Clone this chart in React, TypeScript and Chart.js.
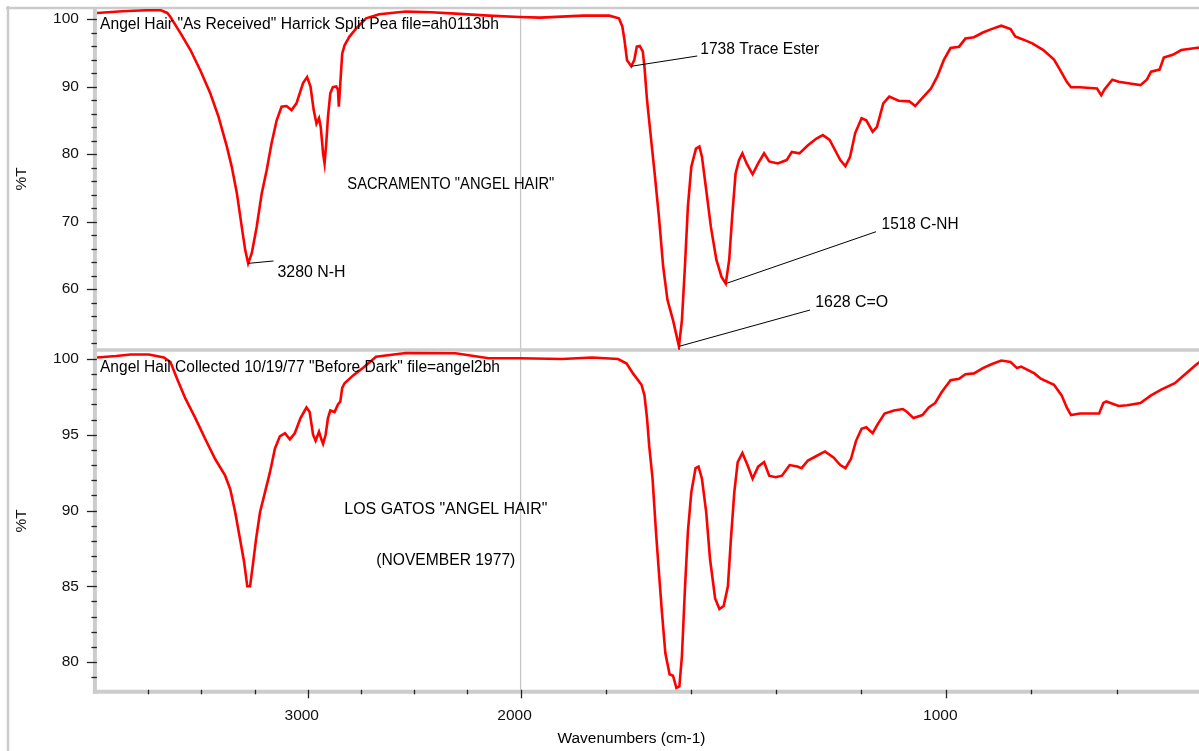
import React, { useEffect, useRef } from 'react';
import { Chart, registerables } from 'chart.js';

Chart.register(...registerables);

// ---------- data ----------
const topWavenumbers = [
  3990, 3870, 3760, 3690, 3660, 3645, 3598, 3551, 3505, 3458, 3419, 3380, 3357, 3333, 3310, 3294, 3280, 3263, 3240,
  3216, 3193, 3170, 3146, 3123, 3100, 3076, 3053, 3022, 3003, 2987, 2972, 2959, 2947, 2939, 2928, 2921, 2913, 2905,
  2894, 2882, 2866, 2858, 2854, 2847, 2838, 2827, 2804, 2772, 2726, 2664, 2539, 2420, 2306, 2150, 2005, 1954, 1853,
  1792, 1769, 1761, 1756, 1750, 1740, 1733, 1727, 1720, 1713, 1709, 1703, 1695, 1685, 1675, 1665, 1655, 1642, 1628,
  1621, 1614, 1607, 1599, 1588, 1580, 1574, 1564, 1553, 1540, 1528, 1518, 1510, 1503, 1495, 1487, 1479, 1469, 1455,
  1442, 1428, 1416, 1396, 1375, 1363, 1345, 1325, 1305, 1290, 1274, 1259, 1249, 1237, 1226, 1214, 1199, 1188, 1173,
  1163, 1148, 1134, 1112, 1087, 1073, 1056, 1036, 1021, 1006, 990, 970, 955, 935, 914, 894, 871, 849, 838, 826, 813,
  798, 772, 747, 732, 717, 707, 686, 646, 636, 628, 610, 595, 565, 544, 529, 519, 499, 489, 468, 448, 414, 400,
];
const topTransmittance = [
  100.9, 101.15, 101.3, 101.3, 100.9, 100.3, 97.9, 95.4, 92.4, 89.0, 85.5, 81.1, 78.1, 74.2, 69.2, 65.8, 63.8, 65.3, 69.2,
  74.2, 77.6, 81.6, 85.0, 87.0, 87.1, 86.5, 87.5, 90.5, 91.4, 90.0, 86.5, 84.5, 85.3, 84.0, 80.1, 78.6, 81.6, 85.5,
  89.0, 89.9, 90.0, 89.5, 87.0, 90.5, 94.9, 96.1, 97.4, 98.6, 100.1, 100.7, 101.1, 101.0, 100.8, 100.5, 100.3, 100.2, 100.5,
  100.5, 100.1, 98.9, 96.9, 93.9, 93.0, 93.9, 95.9, 96.0, 95.2, 92.9, 88.0, 83.1, 77.1, 70.7, 63.3, 58.4, 55.4, 51.5,
  55.4, 63.3, 72.2, 78.1, 80.8, 81.1, 79.6, 74.7, 69.2, 64.3, 61.8, 60.8, 64.3, 70.7, 77.1, 79.1, 80.1, 78.6, 77.0,
  78.6, 80.1, 78.9, 78.6, 79.1, 80.3, 80.1, 81.3, 82.3, 82.8, 82.1, 80.3, 79.1, 78.2, 79.6, 83.1, 85.3, 85.0, 83.3,
  84.0, 87.5, 88.5, 87.9, 87.8, 87.1, 88.3, 89.7, 91.5, 93.9, 95.7, 95.9, 97.1, 97.3, 98.0, 98.5, 99.0, 98.5, 97.4, 97.1, 96.8,
  96.4, 95.4, 94.0, 92.4, 90.7, 89.9, 89.9, 89.7, 88.7, 89.6, 91.0, 90.7, 90.4, 90.2, 91.0, 92.2, 92.5, 94.3, 94.7, 95.4, 95.7, 95.8,
];

const bottomWavenumbers = [
  3990, 3900, 3832, 3746, 3676, 3645, 3614, 3575, 3528, 3481, 3435, 3388, 3364, 3341, 3318, 3299, 3284, 3271, 3258,
  3243, 3224, 3201, 3178, 3154, 3131, 3107, 3084, 3061, 3034, 3006, 2991, 2975, 2963, 2947, 2936, 2928, 2916, 2905,
  2894, 2874, 2858, 2847, 2838, 2827, 2788, 2741, 2679, 2539, 2306, 2150, 2005, 1903, 1832, 1771, 1751, 1736, 1716,
  1709, 1703, 1698, 1690, 1682, 1675, 1668, 1660, 1650, 1642, 1634, 1627, 1621, 1614, 1607, 1599, 1589, 1582, 1574,
  1564, 1555, 1543, 1533, 1523, 1513, 1506, 1498, 1490, 1479, 1467, 1455, 1442, 1428, 1416, 1401, 1386, 1368, 1350,
  1340, 1325, 1305, 1285, 1265, 1249, 1237, 1224, 1212, 1199, 1188, 1173, 1161, 1145, 1123, 1102, 1092, 1077, 1056,
  1041, 1026, 1011, 990, 970, 955, 935, 914, 894, 871, 849, 834, 824, 793, 778, 747, 729, 717, 707, 686, 641, 631, 624,
  595, 575, 544, 519, 494, 463, 443, 414, 400,
];
const bottomTransmittance = [
  100.1, 100.2, 100.3, 100.3, 100.1, 99.8, 98.7, 97.4, 96.1, 94.7, 93.4, 92.3, 91.4, 89.9, 88.1, 86.6, 85.0, 85.0, 86.4,
  88.1, 89.9, 91.2, 92.5, 94.1, 94.9, 95.1, 94.7, 95.1, 96.1, 96.8, 96.5, 95.0, 94.6, 95.2, 94.7, 94.4, 95.0, 96.1,
  96.6, 96.5, 97.0, 97.2, 98.1, 98.4, 98.9, 99.4, 100.15, 100.4, 100.38, 100.05, 100.05, 100.0, 100.1, 100.0, 99.7, 99.05, 98.3,
  97.6, 96.1, 94.3, 92.1, 88.6, 85.9, 83.3, 80.6, 79.2, 79.1, 78.3, 78.4, 80.4, 84.8, 88.6, 91.2, 92.8, 92.9, 92.1,
  89.9, 86.8, 84.2, 83.5, 83.7, 85.0, 88.1, 91.2, 93.2, 93.8, 93.0, 92.1, 92.9, 93.2, 92.3, 92.2, 92.3, 93.0, 92.9,
  92.8, 93.3, 93.6, 93.9, 93.5, 93.0, 92.8, 93.4, 94.6, 95.4, 95.5, 95.1, 95.7, 96.4, 96.6, 96.7, 96.5, 96.1, 96.3,
  96.8, 97.1, 97.8, 98.6, 98.7, 99.0, 99.05, 99.4, 99.65, 99.9, 99.8, 99.4, 99.5, 99.05, 98.7, 98.3, 97.6, 96.8, 96.3, 96.4, 96.4, 97.1, 97.2,
  96.9, 96.95, 97.1, 97.6, 98.0, 98.4, 98.9, 99.6, 99.9,
];

const xMajorTicks = [3000, 2000, 1000];
const xTickLabels = ['3000', '2000', '1000'];
const xMinorTicks = [3750, 3500, 3250, 2750, 2500, 2250, 1800, 1600, 1400, 1200, 800, 600, 400];
const topYTicks = [60, 70, 80, 90, 100];
const topYMinorTicks = [52, 54, 56, 58, 62, 64, 66, 68, 72, 74, 76, 78, 82, 84, 86, 88, 92, 94, 96, 98];
const bottomYTicks = [80, 85, 90, 95, 100];
const bottomYMinorTicks = [79, 81, 82, 83, 84, 86, 87, 88, 89, 91, 92, 93, 94, 96, 97, 98, 99];

const yAxisTitle = '%T';
const xAxisTitle = 'Wavenumbers (cm-1)';

// panel texts: [text, wavenumber, %T, max width]
const topPanelTexts: [string, number, number, number][] = [
  ['Angel Hair "As Received" Harrick Split Pea file=ah0113bh', 3976, 99.11, 399],
  ['SACRAMENTO "ANGEL HAIR"', 2814, 75.4, 207],
];
const bottomPanelTexts: [string, number, number, number][] = [
  ['Angel Hail Collected 10/19/77 "Before Dark" file=angel2bh', 3976, 99.43, 400],
  ['LOS GATOS "ANGEL HAIR"', 2828, 90.05, 203],
  ['(NOVEMBER 1977)', 2678, 86.69, 139],
];
// peak labels: [text, peak wn, leader end wn, leader end %T, label wn, label %T, max width]
const peakLabels: [string, number, number, number, number, number, number][] = [
  ['3280 N-H', 3280, 3161, 64.15, 3142, 62.41, 68],
  ['1738 Trace Ester', 1740, 1585, 94.52, 1578, 95.41, 119],
  ['1518 C-NH', 1518, 1165, 68.49, 1152, 69.48, 77],
  ['1628 C=O', 1628, 1320, 56.89, 1308, 57.93, 73],
];

// ---------- helpers ----------
// IR axis: 4000-2000 at one scale, below 2000 expanded x2
function toAxis(w: number): number {
  return w >= 2000 ? (4000 - w) / 1000 : 2 + (2000 - w) / 500;
}
function series(ws: number[], vs: number[]) {
  return ws.map((w, i) => ({ x: toAxis(w), y: vs[i] }));
}
function valueAt(ws: number[], vs: number[], w: number): number {
  let best = 0;
  for (let i = 1; i < ws.length; i++) if (Math.abs(ws[i] - w) < Math.abs(ws[best] - w)) best = i;
  return vs[best];
}

const FONT_FAMILY = '"Liberation Sans", Arial, Helvetica, sans-serif';
const GRAY = '#cccccc';
const INK = '#111111';

function seg(ctx: CanvasRenderingContext2D, x1: number, y1: number, x2: number, y2: number) {
  ctx.beginPath();
  ctx.moveTo(x1, y1);
  ctx.lineTo(x2, y2);
  ctx.stroke();
}

const decorPlugin = {
  id: 'irDecor',
  beforeDatasetsDraw(chart: any) {
    const { ctx, chartArea: a, scales } = chart;
    const x = scales.x;
    const yTop = scales.yTop;
    ctx.save();
    ctx.strokeStyle = GRAY;
    ctx.lineWidth = 2.5;
    seg(ctx, 2, 0, 2, chart.height);
    seg(ctx, 0, 2, chart.width, 2);
    ctx.strokeStyle = '#c6c6c6';
    ctx.lineWidth = 1.3;
    const x2000 = x.getPixelForValue(toAxis(2000));
    seg(ctx, x2000, a.top, x2000, a.bottom);
    ctx.strokeStyle = GRAY;
    ctx.lineWidth = 3.5;
    seg(ctx, a.left, yTop.bottom, chart.width, yTop.bottom);
    ctx.lineWidth = 4;
    seg(ctx, a.left, a.top, a.left, a.bottom + 2);
    seg(ctx, a.left - 2, a.bottom, chart.width, a.bottom);
    ctx.restore();
  },
  afterDatasetsDraw(chart: any) {
    const { ctx, chartArea: a, scales } = chart;
    const x = scales.x;
    const yTop = scales.yTop;
    const yBot = scales.yBot;
    ctx.save();
    ctx.strokeStyle = '#222222';
    ctx.lineWidth = 1.3;
    const yTicks = (scale: any, major: number[], minor: number[]) => {
      major.forEach((v) => {
        const p = Math.round(scale.getPixelForValue(v)) + 0.5;
        seg(ctx, a.left - 8, p, a.left + 2, p);
      });
      minor.forEach((v) => {
        const p = Math.round(scale.getPixelForValue(v)) + 0.5;
        seg(ctx, a.left - 3.5, p, a.left + 2, p);
      });
    };
    yTicks(yTop, topYTicks, topYMinorTicks);
    yTicks(yBot, bottomYTicks, bottomYMinorTicks);
    xMajorTicks.forEach((w) => {
      const p = Math.round(x.getPixelForValue(toAxis(w))) + 0.5;
      seg(ctx, p, a.bottom - 2, p, a.bottom + 6.5);
    });
    xMinorTicks.forEach((w) => {
      const p = Math.round(x.getPixelForValue(toAxis(w))) + 0.5;
      seg(ctx, p, a.bottom - 2, p, a.bottom + 2.5);
    });

    // texts
    ctx.fillStyle = '#000000';
    ctx.font = `16px ${FONT_FAMILY}`;
    ctx.textBaseline = 'middle';
    ctx.textAlign = 'left';
    topPanelTexts.forEach(([t, w, v, mw]) => {
      ctx.fillText(t, x.getPixelForValue(toAxis(w)), yTop.getPixelForValue(v), mw);
    });
    bottomPanelTexts.forEach(([t, w, v, mw]) => {
      ctx.fillText(t, x.getPixelForValue(toAxis(w)), yBot.getPixelForValue(v), mw);
    });
    ctx.strokeStyle = '#000000';
    ctx.lineWidth = 1;
    peakLabels.forEach(([t, pw, ew, ev, lw, lv, mw]) => {
      const pv = valueAt(topWavenumbers, topTransmittance, pw);
      seg(
        ctx,
        x.getPixelForValue(toAxis(pw)),
        yTop.getPixelForValue(pv),
        x.getPixelForValue(toAxis(ew)),
        yTop.getPixelForValue(ev)
      );
      ctx.fillText(t, x.getPixelForValue(toAxis(lw)), yTop.getPixelForValue(lv), mw);
    });

    // x axis title
    ctx.font = `15.5px ${FONT_FAMILY}`;
    ctx.textAlign = 'center';
    ctx.fillText(xAxisTitle, 625.5, 733, 148);
    ctx.restore();
  },
};

const tickFont = { family: FONT_FAMILY, size: 15.5 };

function yScale(min: number, max: number, ticks: number[], weight: number) {
  return {
    type: 'linear' as const,
    position: 'left' as const,
    stack: 'panels',
    stackWeight: 1,
    weight,
    min,
    max,
    grid: { display: false, drawTicks: false },
    border: { display: false },
    afterBuildTicks: (s: any) => {
      s.ticks = ticks.map((v) => ({ value: v }));
    },
    afterFit: (s: any) => {
      s.width = 88.9;
      s.paddingTop = 0;
      s.paddingBottom = 0;
    },
    ticks: {
      padding: 16,
      color: INK,
      font: tickFont,
      callback: (v: any) => String(v),
    },
    title: {
      display: true,
      text: yAxisTitle,
      color: INK,
      font: { family: FONT_FAMILY, size: 15.5 },
      padding: { top: 6, bottom: 0 },
    },
  };
}

export default function App() {
  const ref = useRef<HTMLCanvasElement>(null);
  useEffect(() => {
    const canvas = ref.current;
    if (!canvas) return;
    const chart = new Chart(canvas, {
      type: 'line',
      data: {
        datasets: [
          {
            label: 'Sacramento',
            data: series(topWavenumbers, topTransmittance),
            yAxisID: 'yTop',
            borderColor: '#ff0000',
            borderWidth: 2.6,
            pointRadius: 0,
            tension: 0,
          },
          {
            label: 'Los Gatos',
            data: series(bottomWavenumbers, bottomTransmittance),
            yAxisID: 'yBot',
            borderColor: '#ff0000',
            borderWidth: 2.6,
            pointRadius: 0,
            tension: 0,
          },
        ],
      },
      options: {
        responsive: false,
        animation: false,
        devicePixelRatio: 1,
        events: [],
        layout: { padding: { top: 2, right: 8.3, bottom: 0, left: 0 } },
        plugins: { legend: { display: false }, tooltip: { enabled: false } },
        scales: {
          x: {
            type: 'linear',
            position: 'bottom',
            min: 0,
            max: toAxis(400),
            grid: { display: false, drawTicks: false },
            border: { display: false },
            afterBuildTicks: (s: any) => {
              s.ticks = xMajorTicks.map((w) => ({ value: toAxis(w) }));
            },
            afterFit: (s: any) => {
              s.height = 59.2;
              s.paddingLeft = 0;
              s.paddingRight = 0;
            },
            ticks: {
              padding: 14.5,
              labelOffset: -6,
              maxRotation: 0,
              autoSkip: false,
              color: INK,
              font: tickFont,
              callback: (_v: any, i: number) => xTickLabels[i],
            },
          },
          yTop: yScale(50.98, 101.63, topYTicks, 2),
          yBot: yScale(78.04, 100.6, bottomYTicks, 1),
        },
      },
      plugins: [decorPlugin],
    } as any);
    return () => chart.destroy();
  }, []);
  return (
    <div style={{ position: 'fixed', left: 6, top: 6, width: 1204, height: 745, background: '#ffffff' }}>
      <canvas ref={ref} width={1204} height={745} style={{ display: 'block', width: 1204, height: 745 }} />
    </div>
  );
}
